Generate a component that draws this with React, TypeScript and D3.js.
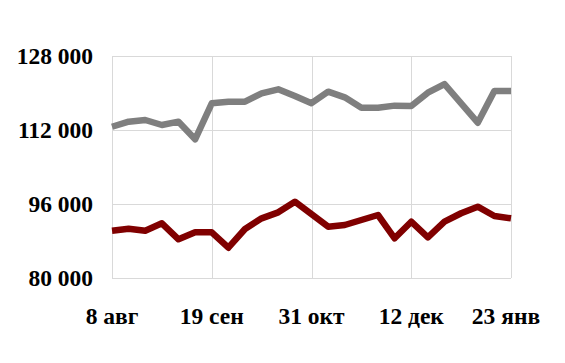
import React, { useRef, useEffect } from "react";
import * as d3 from "d3";

// weekly observations, 8 Aug -> 23 Jan
const startDate = new Date(2010, 7, 8);
const weeks = d3.range(25).map((i) => d3.timeDay.offset(startDate, i * 7));

const greySeries = [
	112700, 113800, 114160, 113080, 113800, 109990, 117770, 118120, 118120,
	119930, 120800, 119350, 117800, 120290, 119070, 116820, 116820, 117270,
	117190, 120060, 121940, 117770, 113580, 120430, 120430,
];

const redSeries = [
	90230, 90660, 90230, 91830, 88370, 89880, 89880, 86550, 90590, 92900,
	94200, 96500, 93800, 91100, 91460, 92540, 93620, 88580, 92170, 88800,
	92170, 94000, 95420, 93400, 92900,
];

const yTicks = [80000, 96000, 112000, 128000];
const xTickLabels = ["8 авг", "19 сен", "31 окт", "12 дек", "23 янв"];
const xTickDates = [0, 6, 12, 18, 24].map((i) => weeks[i]);

const width = 565;
const height = 363;
const margin = { top: 56, right: 54, bottom: 85, left: 112 };

export default function App() {
	const svgRef = useRef<SVGSVGElement | null>(null);

	useEffect(() => {
		const svg = d3.select(svgRef.current);
		svg.selectAll("*").remove();

		const x = d3
			.scaleTime()
			.domain([weeks[0], weeks[weeks.length - 1]])
			.range([margin.left, width - margin.right]);
		const y = d3
			.scaleLinear()
			.domain([80000, 128000])
			.range([height - margin.bottom, margin.top]);

		const fmt = (v: number) => d3.format(",")(v).replace(/,/g, " ");
		const font = "'Liberation Serif', 'Times New Roman', serif";

		// grid
		const grid = svg.append("g").attr("stroke", "#d9d9d9").attr("stroke-width", 1);
		grid
			.selectAll("line.h")
			.data(yTicks)
			.enter()
			.append("line")
			.attr("x1", margin.left)
			.attr("x2", width - margin.right)
			.attr("y1", (d) => Math.round(y(d)) + 0.5)
			.attr("y2", (d) => Math.round(y(d)) + 0.5);
		grid
			.selectAll("line.v")
			.data(xTickDates)
			.enter()
			.append("line")
			.attr("x1", (d) => Math.round(x(d)) + 0.5)
			.attr("x2", (d) => Math.round(x(d)) + 0.5)
			.attr("y1", margin.top)
			.attr("y2", height - margin.bottom);

		// y labels
		svg
			.append("g")
			.selectAll("text")
			.data(yTicks)
			.enter()
			.append("text")
			.attr("x", margin.left - 19)
			.attr("y", (d) => y(d))
			.attr("dy", "0.35em")
			.attr("text-anchor", "end")
			.attr("font-family", font)
			.attr("font-weight", "bold")
			.attr("font-size", 23.5)
			.text((d) => fmt(d));

		// x labels
		svg
			.append("g")
			.selectAll("text")
			.data(xTickDates)
			.enter()
			.append("text")
			.attr("x", (d, i) => x(d) - (i === xTickDates.length - 1 ? 5 : 0))
			.attr("y", 324)
			.attr("text-anchor", "middle")
			.attr("font-family", font)
			.attr("font-weight", "bold")
			.attr("font-size", 23.5)
			.text((d, i) => xTickLabels[i]);

		const line = d3
			.line<number>()
			.x((d, i) => x(weeks[i]))
			.y((d) => y(d));

		svg
			.append("path")
			.datum(greySeries)
			.attr("d", line)
			.attr("fill", "none")
			.attr("stroke", "#7f7f7f")
			.attr("stroke-width", 6.5)
			.attr("stroke-linejoin", "round");

		svg
			.append("path")
			.datum(redSeries)
			.attr("d", line)
			.attr("fill", "none")
			.attr("stroke", "#800000")
			.attr("stroke-width", 6.5)
			.attr("stroke-linejoin", "round");
	}, []);

	return (
		<svg
			ref={svgRef}
			width={width}
			height={height}
			style={{ position: "absolute", left: 0, top: 0, background: "#fff" }}
		></svg>
	);
}
